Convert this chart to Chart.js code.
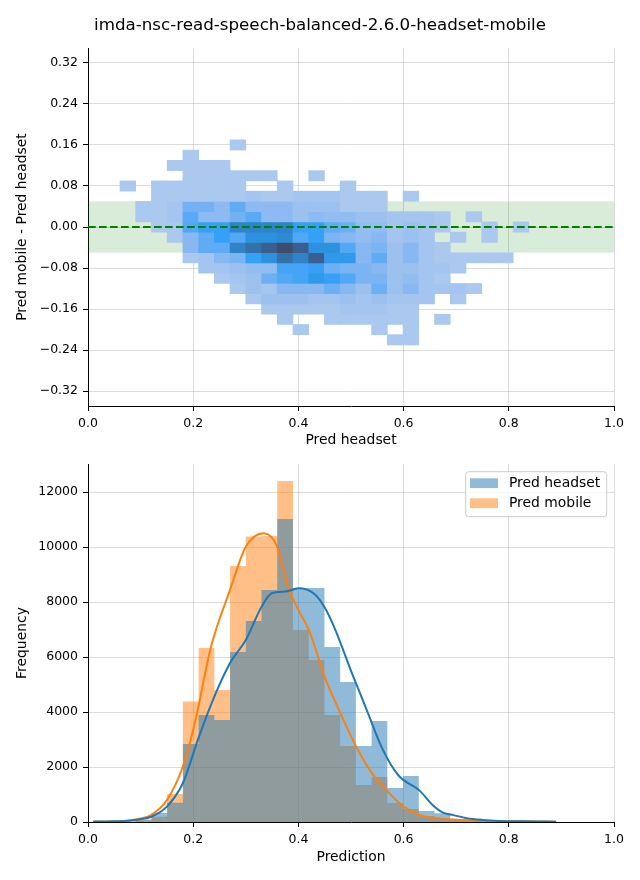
<!DOCTYPE html>
<html>
<head>
<meta charset="utf-8">
<script src="https://cdn.jsdelivr.net/npm/chart.js@4.4.1/dist/chart.umd.min.js"></script>
<style>
  body { margin: 0; background: #fff; }
  canvas { display: block; }
</style>
</head>
<body>
<canvas id="diffChart" width="640" height="450"></canvas>
<canvas id="histChart" width="640" height="430"></canvas>
<script>
const chartTitle = 'imda-nsc-read-speech-balanced-2.6.0-headset-mobile';

// shared bins (left edge of first bin + width)
const binStart = 0.0608;
const binWidth = 0.0299;

const xTicks = [0, 0.2, 0.4, 0.6, 0.8, 1.0];
const diffTicks = [-0.32, -0.24, -0.16, -0.08, 0, 0.08, 0.16, 0.24, 0.32];
const freqTicks = [0, 2000, 4000, 6000, 8000, 10000, 12000];

// 2D histogram: one row per difference bin (top to bottom), one column per headset bin
const diffRowCenters = [0.16, 0.14, 0.12, 0.10, 0.08, 0.06, 0.04, 0.02, 0, -0.02, -0.04, -0.06, -0.08, -0.10, -0.12, -0.14, -0.16, -0.18, -0.20, -0.22];
const diffRowHeight = 0.02;
const diffCounts = [
  [0,0,0,0,0,0,0,40,0,0,0,0,0,0,0,0,0,0,0,0,0,0,0,0,0,0],
  [0,0,0,0,40,0,0,0,0,0,0,0,0,0,0,0,0,0,0,0,0,0,0,0,0,0],
  [0,0,0,40,40,40,40,0,0,0,0,0,0,0,0,0,0,0,0,0,0,0,0,0,0,0],
  [0,0,0,0,40,40,40,40,40,40,0,0,40,0,0,0,0,0,0,0,0,0,0,0,0,0],
  [40,0,40,40,40,40,40,40,0,0,40,0,0,0,40,0,0,0,0,0,0,0,0,0,0,0],
  [0,0,40,40,40,40,40,40,60,40,40,60,60,60,40,40,40,0,40,0,0,0,0,0,0,0],
  [0,40,40,60,150,150,110,180,110,110,110,80,80,80,40,40,40,0,0,0,0,0,0,0,0,0],
  [0,40,40,60,190,110,110,150,190,110,110,80,110,100,100,80,80,60,60,60,40,0,40,0,0,0],
  [0,0,40,40,200,240,240,320,320,320,320,240,240,180,160,100,100,60,80,60,40,0,0,40,0,40],
  [0,0,0,40,120,180,240,200,280,280,300,200,240,140,120,100,120,60,80,60,0,40,0,40,0,0],
  [0,0,0,0,120,180,180,320,360,400,440,400,280,280,200,120,140,80,120,60,40,0,0,0,0,0],
  [0,0,0,0,40,60,120,140,240,280,360,320,400,260,260,120,180,80,120,60,40,40,40,40,40,0],
  [0,0,0,0,0,60,60,80,100,100,220,220,240,160,140,140,120,80,80,60,60,40,0,0,0,0],
  [0,0,0,0,0,0,40,60,80,160,200,220,260,240,200,140,140,80,100,60,40,0,0,0,0,0],
  [0,0,0,0,0,0,0,40,80,60,120,120,120,160,120,80,160,80,120,60,60,60,40,0,0,0],
  [0,0,0,0,0,0,0,0,40,80,80,80,60,60,80,60,80,60,60,60,0,40,0,0,0,0],
  [0,0,0,0,0,0,0,0,0,40,40,40,40,40,60,60,60,40,40,0,0,0,0,0,0,0],
  [0,0,0,0,0,0,0,0,0,0,40,0,0,40,40,40,40,40,40,0,40,0,0,0,0,0],
  [0,0,0,0,0,0,0,0,0,0,0,40,0,0,0,0,40,0,40,0,0,0,0,0,0,0],
  [0,0,0,0,0,0,0,0,0,0,0,0,0,0,0,0,0,40,40,0,0,0,0,0,0,0]
];
const heatColors = ['#abc8ef', '#9cc1ef', '#87b8f1', '#6daff3', '#52a8f5', '#35a0f5', '#2c91df', '#2e83c9', '#3571a9', '#3a5e8d', '#3d4d6b'];
const heatStep = 40;
const bandHalf = 0.05;

// 1D histograms
const headsetCounts = [15, 60, 340, 700, 2840, 3890, 3710, 6180, 7310, 8440, 11020, 8510, 8510, 6360, 5090, 2760, 3670, 1240, 1670, 400, 320, 100, 45, 25, 10, 5];
const mobileCounts = [20, 100, 190, 1020, 4380, 6330, 4800, 9310, 10380, 10400, 12400, 6980, 5890, 3890, 2760, 1350, 1640, 690, 470, 220, 145, 80, 40, 20, 10, 5];

// density curves (scaled to counts)
const headsetKdeX = [0.01, 0.05, 0.08, 0.10, 0.12, 0.15, 0.18, 0.21, 0.24, 0.27, 0.30, 0.33, 0.35, 0.375, 0.40, 0.43, 0.45, 0.47, 0.50, 0.53, 0.56, 0.59, 0.63, 0.655, 0.675, 0.695, 0.72, 0.75, 0.78, 0.85, 0.89];
const headsetKdeY = [15, 25, 50, 100, 190, 560, 1400, 3050, 4550, 5780, 6620, 7830, 8330, 8380, 8500, 8300, 7800, 7000, 5500, 4070, 2650, 1700, 1150, 620, 340, 250, 140, 75, 40, 20, 10];
const mobileKdeX = [0.01, 0.05, 0.08, 0.10, 0.12, 0.15, 0.18, 0.203, 0.234, 0.27, 0.30, 0.334, 0.36, 0.38, 0.40, 0.42, 0.45, 0.48, 0.51, 0.54, 0.57, 0.60, 0.63, 0.66, 0.69, 0.73, 0.78, 0.89];
const mobileKdeY = [10, 20, 60, 130, 255, 800, 2000, 3590, 6380, 8440, 10010, 10500, 10000, 8560, 7710, 6980, 5280, 3950, 2740, 1770, 1100, 560, 255, 145, 90, 50, 30, 10];

Chart.defaults.font.family = "'DejaVu Sans', sans-serif";
Chart.defaults.color = '#000';

const binCenter = i => binStart + binWidth * (i + 0.5);
const binEdge = i => binStart + binWidth * i;

function hexToRgb(h) {
  return [1, 3, 5].map(k => parseInt(h.slice(k, k + 2), 16));
}
function heatColor(c) {
  const t = Math.min(Math.max(c / heatStep - 1, 0), heatColors.length - 1);
  const k = Math.min(Math.floor(t), heatColors.length - 2);
  const f = t - k;
  const a = hexToRgb(heatColors[k]), b = hexToRgb(heatColors[k + 1]);
  const m = a.map((v, n) => Math.round(v + (b[n] - v) * f));
  return `rgb(${m[0]},${m[1]},${m[2]})`;
}

const tickFont = { size: 12.5 };
const labelFont = { size: 13.9 };
const gridStyle = {
  color: 'rgba(176,176,176,0.45)',
  lineWidth: 1,
  offset: false,
  drawTicks: true,
  tickLength: 5,
  tickColor: '#000',
  tickWidth: 1
};

function xAxis(label, height, titlePad) {
  return {
    type: 'linear', min: 0, max: 1, offset: false, z: 1,
    afterBuildTicks: s => { s.ticks = xTicks.map(v => ({ value: v })); },
    afterFit: s => { s.height = height; },
    grid: gridStyle,
    border: { color: '#000', width: 1 },
    ticks: { font: tickFont, padding: 5, autoSkip: false, maxRotation: 0, callback: v => v.toFixed(1) },
    title: { display: true, text: label, font: labelFont, padding: { top: 0, bottom: titlePad } }
  };
}
function yAxis(label, min, max, values, fmt) {
  return {
    type: 'linear', min, max, z: 1,
    afterBuildTicks: s => { s.ticks = values.map(v => ({ value: v })); },
    afterFit: s => { s.width = 88; },
    grid: gridStyle,
    border: { color: '#000', width: 1 },
    ticks: { font: tickFont, padding: 5, autoSkip: false, callback: fmt },
    title: { display: true, text: label, font: labelFont, padding: { top: 13.7, bottom: 0 } }
  };
}

// ---- top: difference heatmap ----
const bandPlugin = {
  id: 'okBand',
  beforeDatasetsDraw(chart) {
    const { ctx, chartArea, scales } = chart;
    const y0 = scales.y.getPixelForValue(bandHalf);
    const y1 = scales.y.getPixelForValue(-bandHalf);
    ctx.save();
    ctx.fillStyle = 'rgba(0,128,0,0.15)';
    ctx.fillRect(chartArea.left, y0, chartArea.width, y1 - y0);
    ctx.restore();
  }
};

const heatDatasets = diffRowCenters.map((yc, r) => ({
  type: 'bar',
  data: diffCounts[r]
    .map((c, i) => ({ x: binCenter(i), y: [yc - diffRowHeight / 2, yc + diffRowHeight / 2], c }))
    .filter(d => d.c > 0),
  backgroundColor: ctx => heatColor(ctx.raw.c),
  borderWidth: 0,
  grouped: false,
  barPercentage: 1,
  categoryPercentage: 1
}));

new Chart(document.getElementById('diffChart'), {
  type: 'bar',
  data: {
    datasets: [
      ...heatDatasets,
      {
        type: 'line',
        data: [{ x: 0, y: 0 }, { x: 1, y: 0 }],
        borderColor: '#008000',
        borderWidth: 2,
        borderDash: [7.7, 3.3],
        pointRadius: 0,
        order: -1
      }
    ]
  },
  options: {
    responsive: false,
    animation: false,
    events: [],
    layout: { padding: { left: 0, right: 0, top: 0, bottom: 0 } },
    plugins: {
      legend: { display: false },
      tooltip: { enabled: false },
      title: {
        display: true, text: chartTitle, color: '#000',
        font: { size: 16.7, weight: 'normal' },
        padding: { top: 16, bottom: 12 }
      }
    },
    scales: {
      x: xAxis('Pred headset', 44, 1),
      y: yAxis('Pred mobile - Pred headset', -0.349, 0.349, diffTicks,
        v => (v < 0 ? '\u2212' : '') + Math.abs(v).toFixed(2)),
      // empty right margin so the title centres on the whole figure
      pad: {
        position: 'right', display: true,
        grid: { display: false, drawTicks: false },
        border: { display: false },
        ticks: { display: false },
        afterFit: s => { s.width = 26; }
      }
    }
  },
  plugins: [bandPlugin]
});

// ---- bottom: prediction histograms ----
const legendPlugin = {
  id: 'boxLegend',
  afterDraw(chart) {
    const { ctx, chartArea } = chart;
    const items = chart.data.datasets.filter(d => d.label);
    ctx.save();
    ctx.font = "13.9px 'DejaVu Sans'";
    const textW = Math.max(...items.map(d => ctx.measureText(d.label).width));
    const w = 4.3 + 28 + 11 + textW + 6.5, h = 45;
    const x = chartArea.right - 7.3 - w, y = chartArea.top + 7.7;
    ctx.beginPath();
    ctx.roundRect(x, y, w, h, 3);
    ctx.fillStyle = 'rgba(255,255,255,0.8)';
    ctx.fill();
    ctx.strokeStyle = '#cccccc';
    ctx.lineWidth = 1;
    ctx.stroke();
    items.forEach((d, k) => {
      const cy = y + 11.5 + 20 * k;
      ctx.fillStyle = d.backgroundColor;
      ctx.fillRect(x + 4.3, cy - 4.9, 28, 9.8);
      ctx.fillStyle = '#000';
      ctx.textBaseline = 'middle';
      ctx.fillText(d.label, x + 43.3, cy);
    });
    ctx.restore();
  }
};

// histogram drawn as one stepped, filled outline per series (no seams between bins)
const histSteps = (label, counts, color) => ({
  type: 'line',
  label,
  data: counts.map((v, i) => ({ x: binEdge(i), y: v }))
    .concat([{ x: binEdge(counts.length), y: counts[counts.length - 1] }]),
  stepped: 'before',
  fill: 'origin',
  backgroundColor: color,
  borderWidth: 0,
  borderColor: 'rgba(0,0,0,0)',
  pointRadius: 0
});
const kdeLine = (xs, ys, color) => ({
  type: 'line',
  data: xs.map((x, i) => ({ x, y: ys[i] })),
  borderColor: color,
  borderWidth: 2,
  pointRadius: 0,
  fill: false,
  cubicInterpolationMode: 'monotone',
  order: -1
});

new Chart(document.getElementById('histChart'), {
  type: 'line',
  data: {
    datasets: [
      histSteps('Pred headset', headsetCounts, 'rgba(31,119,180,0.5)'),
      histSteps('Pred mobile', mobileCounts, 'rgba(255,127,14,0.5)'),
      kdeLine(headsetKdeX, headsetKdeY, '#1f77b4'),
      kdeLine(mobileKdeX, mobileKdeY, '#ff7f0e')
    ]
  },
  options: {
    responsive: false,
    animation: false,
    events: [],
    layout: { padding: { left: 0, right: 26, top: 14, bottom: 0 } },
    plugins: { legend: { display: false }, tooltip: { enabled: false } },
    scales: {
      x: xAxis('Prediction', 58, 14.66),
      y: yAxis('Frequency', 0, 13020, freqTicks, v => String(v))
    }
  },
  plugins: [legendPlugin]
});
</script>
</body>
</html>
